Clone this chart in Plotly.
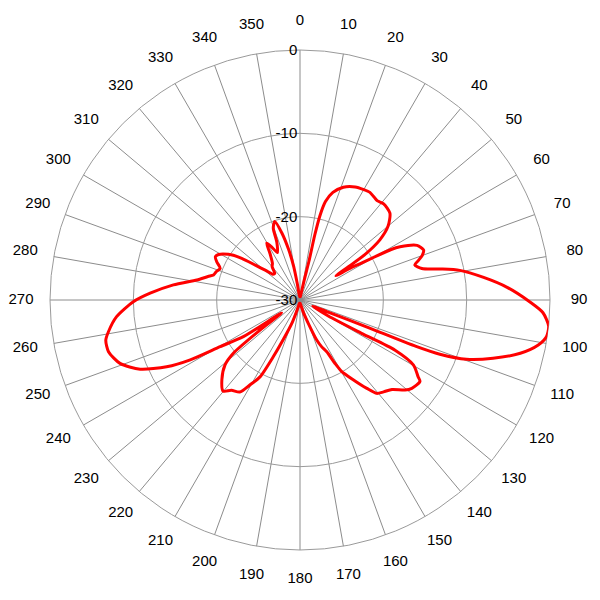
import plotly.graph_objects as go

# Pattern (angle in degrees clockwise from north, level in dB)
theta_deg = [
    0, 5, 9, 12, 13, 12.8, 13.3, 14.5, 17, 21, 26, 30, 33, 36, 38, 41, 46,
    50, 53, 55, 55.5, 56, 57.5, 59, 61, 62, 65, 68, 70, 71.5, 73, 75.5, 77.5,
    79.5, 83, 86.5, 90.5, 93, 96, 98.5, 100.7, 103.6, 106.8, 109.6, 111.2,
    111.8, 112, 113.5, 116, 119.5, 118.4, 117.8, 119.8, 123, 124.2, 128.3,
    130.6, 134.2, 137.7, 140.6, 142.9, 146.3, 149.8, 151.1, 152.7, 155.1,
    157.3, 160.4, 165, 170, 180, 190, 194, 199, 201.8, 205.2, 207.5, 210.5,
    213.2, 217.2, 220.2, 224.4, 229.1, 231.4, 233.1, 235, 237.1, 239.7, 241.4,
    243.4, 246.6, 250.6, 254.9, 258.3, 260.6, 264.8, 269.4, 272.6, 276.8,
    281, 284.3, 286.1, 288.8, 291.6, 294.7, 297, 299.2, 302.5, 305.6, 307.9,
    310.6, 313.5, 316.5, 320, 323, 327.3, 329.6, 332, 334.5, 338.2, 339.6,
    342.2, 344.9, 347.3, 349.3, 350.5, 355, 360,
]
level_db = [
    -29.6, -29.6, -29.3, -27.5, -25.2, -22.0, -19.6, -17.8, -16.5, -15.5,
    -14.9, -14.7, -14.6, -14.8, -14.9, -14.7, -15.0, -16.2, -18.0, -20.5,
    -23.0, -24.8, -23.0, -21.4, -17.5, -16.4, -14.5, -14.0, -14.4, -15.0,
    -15.6, -14.9, -12.8, -10.5, -7.8, -5.1, -2.4, -0.8, 0.0, -0.1, -0.9,
    -2.8, -5.8, -8.8, -12.0, -15.0, -21.4, -26.5, -28.3, -26.1, -21.6, -17.1,
    -14.3, -13.1, -12.6, -12.9, -13.4, -14.6, -15.1, -15.5, -16.7, -18.5,
    -20.1, -21.3, -23.0, -23.8, -24.8, -27.0, -28.5, -29.3, -29.6, -29.6,
    -29.2, -27.2, -25.7, -22.5, -19.6, -18.2, -16.8, -16.4, -15.7, -16.6,
    -18.1, -19.8, -24.0, -27.3, -21.9, -18.9, -15.0, -12.1, -9.1, -7.1,
    -6.2, -6.2, -6.7, -7.9, -10.0, -12.0, -14.7, -17.4, -18.6, -19.2, -19.4,
    -19.7, -19.0, -18.6, -18.8, -19.8, -21.4, -23.2, -24.5, -25.5, -25.6,
    -24.8, -24.5, -23.3, -22.1, -22.8, -23.7, -22.5, -20.8, -20.1, -21.7,
    -23.8, -25.9, -28.0, -29.6, -29.6,
]

angle_ticks = list(range(0, 360, 10))
angle_labels = [str(a) for a in angle_ticks]
radial_ticks = [-30, -20, -10, 0]
radial_labels = ["-30", "-20", "-10", "0"]
label_ring = 0.93  # label ring radius, as a fraction of the outer label frame

font_family = "Liberation Sans, Arial, sans-serif"

fig = go.Figure()
fig.add_trace(go.Scatterpolar(
    r=level_db,
    theta=theta_deg,
    mode="lines",
    line=dict(color="#ff0000", width=3, shape="spline", smoothing=0.7),
    showlegend=False,
    hoverinfo="skip",
    subplot="polar",
))
# angle labels centred on a ring just outside the 0 dB circle
fig.add_trace(go.Scatterpolar(
    r=[label_ring] * len(angle_ticks),
    theta=angle_ticks,
    mode="text",
    text=angle_labels,
    textposition="middle center",
    textfont=dict(family=font_family, size=15, color="black"),
    showlegend=False,
    hoverinfo="skip",
    subplot="polar2",
))

hidden_axis = dict(showgrid=False, showline=False, showticklabels=False, ticks="")

fig.update_layout(
    width=600,
    height=600,
    margin=dict(l=0, r=0, t=0, b=0),
    paper_bgcolor="white",
    font=dict(family=font_family, size=15, color="black"),
    polar=dict(
        domain=dict(x=[50 / 600, 550 / 600], y=[50 / 600, 550 / 600]),
        bgcolor="white",
        angularaxis=dict(
            direction="clockwise",
            rotation=90,
            tickmode="array",
            tickvals=angle_ticks,
            ticktext=angle_labels,
            showticklabels=False,
            showgrid=True,
            gridcolor="#8c8c8c",
            gridwidth=1,
            showline=True,
            linecolor="#9a9a9a",
            linewidth=1,
            ticks="",
            layer="below traces",
        ),
        radialaxis=dict(
            range=[-30, 0],
            tickmode="array",
            tickvals=radial_ticks,
            ticktext=radial_labels,
            angle=90,
            tickangle=90,
            side="counterclockwise",
            showgrid=True,
            gridcolor="#9a9a9a",
            gridwidth=1,
            showline=False,
            ticks="",
            layer="below traces",
            tickfont=dict(family=font_family, size=15, color="black"),
        ),
    ),
    polar2=dict(
        domain=dict(x=[0, 1], y=[0, 1]),
        bgcolor="rgba(0,0,0,0)",
        angularaxis=dict(direction="clockwise", rotation=90, **hidden_axis),
        radialaxis=dict(range=[0, 1], **hidden_axis),
    ),
)

fig.write_html(
    "out.html",
    config={"displayModeBar": False},
    post_script="document.body.style.margin='0';document.body.style.overflow='hidden';",
)
